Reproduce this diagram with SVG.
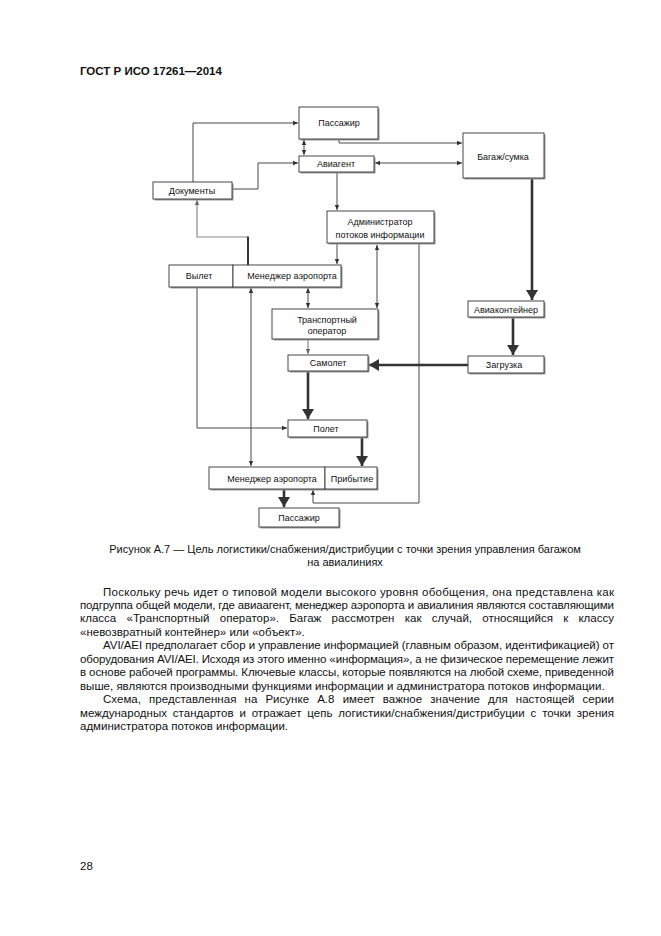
<svg xmlns="http://www.w3.org/2000/svg" width="661" height="936" viewBox="0 0 661 936">
<style>
.bg{fill:#fff}
.box{fill:#fff;stroke:#333;stroke-width:0.9}
.sh{fill:#9a9a9a}
.lbl{font-family:"Liberation Sans",Arial,sans-serif;font-size:9px;fill:#111;text-anchor:middle}
.thin{fill:none;stroke:#333;stroke-width:0.9}
.gray{fill:none;stroke:#8a8a8a;stroke-width:1.2}
.thick{fill:none;stroke:#333;stroke-width:2.6}
.txt{font-family:"Liberation Sans",Arial,sans-serif;font-size:11.5px;fill:#111}
.cap{font-family:"Liberation Sans",Arial,sans-serif;font-size:11px;fill:#111;text-anchor:middle}
.hdr{font-family:"Liberation Sans",Arial,sans-serif;font-size:11.5px;font-weight:bold;fill:#111}
</style>
<defs>
<marker id="a" markerUnits="userSpaceOnUse" markerWidth="6" markerHeight="6" refX="5" refY="3" orient="auto-start-reverse"><path d="M0,0.8 L5,3 L0,5.2 Z" fill="#333"/></marker>
<marker id="ag" markerUnits="userSpaceOnUse" markerWidth="6" markerHeight="6" refX="5" refY="3" orient="auto-start-reverse"><path d="M0,0.8 L5,3 L0,5.2 Z" fill="#666"/></marker>
<marker id="A" markerUnits="userSpaceOnUse" markerWidth="12" markerHeight="14" refX="10" refY="7" orient="auto"><path d="M0,1 L10,7 L0,13 Z" fill="#333"/></marker>
</defs>
<rect class="bg" x="0" y="0" width="661" height="936"/>
<text class="hdr" x="80" y="75">ГОСТ Р ИСО 17261—2014</text>

<g id="connectors">
<path class="thin" d="M339,139 V143 H462" marker-end="url(#a)"/>
<path class="thin" d="M375,163 H462" marker-start="url(#a)" marker-end="url(#a)"/>
<path class="thin" d="M304,140 V155" marker-start="url(#a)" marker-end="url(#a)"/>
<path class="thin" d="M193,182 V123 H298" marker-end="url(#a)"/>
<path class="thin" d="M232,189 H258 V163 H298" marker-end="url(#a)"/>
<path class="thin" d="M337,172 V210" marker-end="url(#a)"/>
<path class="gray" d="M248,237 H197 V200" marker-end="url(#ag)"/>
<path fill="none" stroke="#222" stroke-width="1.8" d="M248,236.4 V265"/>
<path class="thin" d="M337,244 V264" marker-end="url(#a)"/>
<path class="thin" d="M377,245 V308" marker-start="url(#a)" marker-end="url(#a)"/>
<path class="thin" d="M308,288 V308" marker-start="url(#a)" marker-end="url(#a)"/>
<path class="gray" d="M308,339 V354" stroke-width="1" marker-end="url(#ag)"/>
<path class="thin" d="M197,287 V428 H287" marker-end="url(#a)"/>
<path class="thin" d="M251,288 V466" marker-start="url(#a)" marker-end="url(#a)"/>
<path class="thin" d="M419,244 V503 H313 V490" marker-end="url(#a)"/>
<path class="thick" d="M532,178 V300" marker-end="url(#A)"/>
<path class="thick" d="M513,317 V355" marker-end="url(#A)"/>
<path class="thick" d="M468,365 H369" marker-end="url(#A)"/>
<path class="thick" d="M308,371 V419" marker-end="url(#A)"/>
<path class="thick" d="M362,437 V466" marker-end="url(#A)"/>
<path class="thick" d="M284,489 V507" marker-end="url(#A)"/>
</g>

<g id="n-passenger1"><rect class="sh" x="300.5" y="108.5" width="79" height="32"/><rect class="box" x="299" y="107" width="79" height="32"/><text class="lbl" x="339" y="126">Пассажир</text></g>
<g id="n-agent"><rect class="sh" x="300.5" y="157.5" width="75" height="16"/><rect class="box" x="299" y="156" width="75" height="16"/><text class="lbl" x="336" y="167">Авиагент</text></g>
<g id="n-baggage"><rect class="sh" x="464.5" y="134.5" width="81" height="45"/><rect class="box" x="463" y="133" width="81" height="45"/><text class="lbl" x="503" y="160">Багаж/сумка</text></g>
<g id="n-docs"><rect class="sh" x="154.5" y="183.5" width="79" height="17"/><rect class="box" x="153" y="182" width="79" height="17"/><text class="lbl" x="192" y="194">Документы</text></g>
<g id="n-admin"><rect class="sh" x="328.5" y="212.5" width="107" height="32"/><rect class="box" x="327" y="211" width="107" height="32"/><text class="lbl" x="380" y="225">Администратор</text><text class="lbl" x="380" y="238">потоков информации</text></g>
<g id="n-departure"><rect class="sh" x="170.5" y="266.5" width="64" height="22"/><rect class="box" x="169" y="265" width="64" height="22"/><text class="lbl" x="199" y="279">Вылет</text></g>
<g id="n-manager1"><rect class="sh" x="234.5" y="266.5" width="108" height="22"/><rect class="box" x="233" y="265" width="108" height="22"/><text class="lbl" x="292" y="279">Менеджер аэропорта</text></g>
<g id="n-transport"><rect class="sh" x="273.5" y="310.5" width="106" height="30"/><rect class="box" x="272" y="309" width="106" height="30"/><text class="lbl" x="327" y="323">Транспортный</text><text class="lbl" x="327" y="334">оператор</text></g>
<g id="n-plane"><rect class="sh" x="289.5" y="356.5" width="80" height="16"/><rect class="box" x="288" y="355" width="80" height="16"/><text class="lbl" x="328" y="366">Самолет</text></g>
<g id="n-container"><rect class="sh" x="469.5" y="302.5" width="76" height="16"/><rect class="box" x="468" y="301" width="76" height="16"/><text class="lbl" x="506" y="313">Авиаконтейнер</text></g>
<g id="n-loading"><rect class="sh" x="469.5" y="357.5" width="76" height="17"/><rect class="box" x="468" y="356" width="76" height="17"/><text class="lbl" x="504" y="368">Загрузка</text></g>
<g id="n-flight"><rect class="sh" x="289.5" y="421.5" width="79" height="17"/><rect class="box" x="288" y="420" width="79" height="17"/><text class="lbl" x="326" y="432">Полет</text></g>
<g id="n-manager2"><rect class="sh" x="210.5" y="468.5" width="116" height="22"/><rect class="box" x="209" y="467" width="116" height="22"/><text class="lbl" x="272" y="482">Менеджер аэропорта</text></g>
<g id="n-arrival"><rect class="sh" x="326.5" y="468.5" width="52" height="22"/><rect class="box" x="325" y="467" width="52" height="22"/><text class="lbl" x="352" y="482">Прибытие</text></g>
<g id="n-passenger2"><rect class="sh" x="260.5" y="509.5" width="80" height="19"/><rect class="box" x="259" y="508" width="80" height="19"/><text class="lbl" x="299" y="521">Пассажир</text></g>

<text class="cap" x="345" y="553">Рисунок А.7 — Цель логистики/снабжения/дистрибуции с точки зрения управления багажом</text>
<text class="cap" x="345" y="566">на авиалиниях</text>

<text class="txt" x="103" y="596" textLength="511" lengthAdjust="spacing">Поскольку речь идет о типовой модели высокого уровня обобщения, она представлена как</text>
<text class="txt" x="80" y="609" textLength="534" lengthAdjust="spacing">подгруппа общей модели, где авиаагент, менеджер аэропорта и авиалиния являются составляющими</text>
<text class="txt" x="80" y="622" word-spacing="7" textLength="534" lengthAdjust="spacing">класса «Транспортный оператор». Багаж рассмотрен как случай, относящийся к классу</text>
<text class="txt" x="80" y="636">«невозвратный контейнер» или «объект».</text>
<text class="txt" x="103" y="649" textLength="511" lengthAdjust="spacing">AVI/AEI предполагает сбор и управление информацией (главным образом, идентификацией) от</text>
<text class="txt" x="80" y="663" textLength="534" lengthAdjust="spacing">оборудования AVI/AEI. Исходя из этого именно «информация», а не физическое перемещение лежит</text>
<text class="txt" x="80" y="676" textLength="534" lengthAdjust="spacing">в основе рабочей программы. Ключевые классы, которые появляются на любой схеме, приведенной</text>
<text class="txt" x="80" y="690">выше, являются производными функциями информации и администратора потоков информации.</text>
<text class="txt" x="103" y="703" word-spacing="4.9" textLength="511" lengthAdjust="spacing">Схема, представленная на Рисунке А.8 имеет важное значение для настоящей серии</text>
<text class="txt" x="80" y="717" word-spacing="2.6" textLength="534" lengthAdjust="spacing">международных стандартов и отражает цепь логистики/снабжения/дистрибуции с точки зрения</text>
<text class="txt" x="80" y="730">администратора потоков информации.</text>

<text class="txt" x="80" y="870">28</text>
</svg>
